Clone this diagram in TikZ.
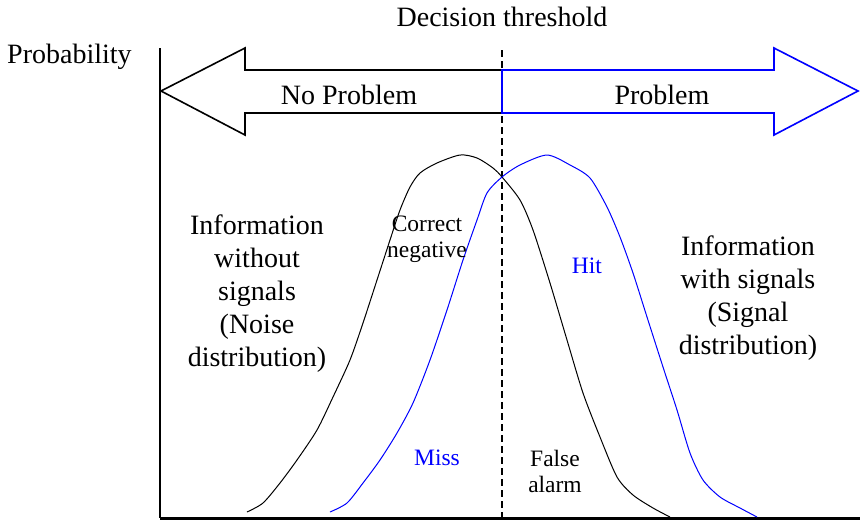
\documentclass[tikz,border=0pt]{standalone}
\usepackage{fontspec}
\setmainfont{Liberation Serif}
\begin{document}
\begin{tikzpicture}[x=1pt,y=-1pt,
    bigtext/.style={font=\fontsize{28}{33}\selectfont, align=center, inner sep=0pt},
    smalltext/.style={font=\fontsize{23.5}{26}\selectfont, align=center, inner sep=0pt}]
    \useasboundingbox (0,0) rectangle (860,520);

    % Draw the axes
    \draw[line width=1.5pt] (160,48) -- (160,518);
    \draw[line width=2.5pt] (160,518.5) -- (860,518.5);
    \node[bigtext, anchor=base west] (prob) at (7,63) {Probability};

    % Draw the decision threshold
    \draw[line width=1.2pt, dash pattern=on 7pt off 4pt] (502,50) -- (502,518);
    \node[bigtext, anchor=base] (thresh) at (502,26) {Decision threshold};

    % Draw the left arrow
    \draw[line width=1.6pt, line join=miter]
        (502,70) -- (245,70) -- (245,48) -- (161,91) -- (245,135) -- (245,113) -- (502,113);
    \node[bigtext] (noproblem) at (349,95) {No Problem};

    % Draw the right arrow
    \draw[blue, line width=1.6pt, line join=miter]
        (502,70) -- (774,70) -- (774,48) -- (858,91) -- (774,135) -- (774,113) -- (502,113) -- cycle;
    \node[bigtext] (problem) at (662,95) {Problem};

    % Draw the noise distribution
    \draw[line width=1pt] plot[smooth, tension=0.45] coordinates {(247,512) (263,503) (280,483)
        (297,460) (317,430) (333,397) (350,360) (363,323) (377,280) (390,240) (400,210)
        (410,187) (420,173) (437,163) (460,155) (477,158) (493,168) (502,177) (520,200)
        (533,230) (550,283) (567,340) (583,393) (600,437) (617,477) (633,495) (653,508)
        (670,517)};

    % Draw the signal distribution
    \draw[blue, line width=1pt] plot[smooth, tension=0.45] coordinates {(330,512) (347,503)
        (363,483) (380,460) (397,433) (413,403) (430,360) (447,310) (463,260) (477,220)
        (487,193) (502,177) (520,165) (547,155) (570,165) (590,178) (607,207) (620,237)
        (633,273) (647,317) (663,367) (677,410) (690,453) (703,480) (720,497) (740,508)
        (757,517)};

    % Label the distributions
    \node[bigtext] (noise) at (257,294) {Information\\without\\signals\\(Noise\\distribution)};
    \node[bigtext] (signal) at (748,298) {Information\\with signals\\(Signal\\distribution)};

    % Label the four outcomes
    \node[smalltext] (correct) at (427,239) {Correct\\negative};
    \node[smalltext, blue] (hit) at (587,266) {Hit};
    \node[smalltext, blue] (miss) at (437,458) {Miss};
    \node[smalltext] (false) at (555,471) {False\\alarm};
\end{tikzpicture}
\end{document}
